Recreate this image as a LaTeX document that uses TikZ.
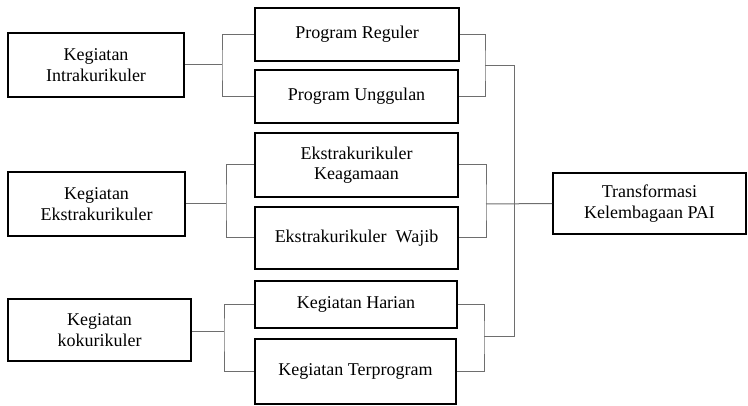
\documentclass[tikz,border=0pt]{standalone}
\usepackage{fontspec}
\setmainfont{Liberation Serif}
\newfontfamily\boxfont{Liberation Serif}
\usepackage{xcolor}
\usepackage{tikz}
\definecolor{linkgray}{RGB}{110, 110, 110}

\begin{document}
\begin{tikzpicture}[x = 1pt, y = -1pt,
		box/.style = {draw, line width = 1.7pt, align = center, inner sep = 0pt,
			font = \boxfont\fontsize{18}{20.5}\selectfont},
		link/.style = {draw = linkgray, line width = 1pt}]
		\useasboundingbox (0,0) rectangle (748,406);
		% kegiatan
		\node (intra) at (96,65) [box, minimum width = 176pt, minimum height = 64pt] {Kegiatan\\Intrakurikuler};
		\node (ekstra) at (96.5,204) [box, minimum width = 177pt, minimum height = 64pt] {Kegiatan\\Ekstrakurikuler};
		\node (koko) at (99.5,330) [box, minimum width = 183pt, minimum height = 62pt] {Kegiatan\\kokurikuler};
		% program
		\node (reg) at (357,34.5) [box, minimum width = 204pt, minimum height = 53pt] {Program Reguler};
		\node (ung) at (356.5,96.5) [box, minimum width = 203pt, minimum height = 53pt] {Program Unggulan};
		\node (keag) at (356.5,165) [box, minimum width = 203pt, minimum height = 64pt] {Ekstrakurikuler\\Keagamaan};
		\node (wajib) at (356.5,238) [box, minimum width = 203pt, minimum height = 62pt] {Ekstrakurikuler\ \ Wajib};
		\node (harian) at (356,304.5) [box, minimum width = 202pt, minimum height = 47pt] {Kegiatan Harian};
		\node (terprog) at (355.5,371.5) [box, minimum width = 201pt, minimum height = 65pt] {Kegiatan Terprogram};
		\node (trans) at (649.5,203.5) [box, minimum width = 193pt, minimum height = 61pt] {Transformasi\\Kelembagaan PAI};
		% junctions
		\coordinate (l1) at (222,65);
		\coordinate (l2) at (226,204);
		\coordinate (l3) at (224,332);
		\coordinate (r1) at (485,66);
		\coordinate (r2) at (486,204);
		\coordinate (r3) at (484,337);
		\coordinate (s1) at (514,66);
		\coordinate (s3) at (514,337);
		\draw [link] (intra.east) -- (l1);
		\draw [link] (reg.west) -| (l1) |- (ung.west);
		\draw [link] (ekstra.east) -- (l2);
		\draw [link] (keag.west) -| (l2) |- (wajib.west);
		\draw [link] (koko.east |- l3) -- (l3);
		\draw [link] (harian.west) -| (l3) |- (terprog.west);
		\draw [link] (reg.east) -| (r1) |- (ung.east);
		\draw [link] (keag.east) -| (r2) |- (wajib.east);
		\draw [link] (harian.east) -| (r3) |- (terprog.east);
		\draw [link] (r1) -- (s1) -- (s3) -- (r3);
		\draw [link] (r2) -- (trans.west);
		\end{tikzpicture}
\end{document}
